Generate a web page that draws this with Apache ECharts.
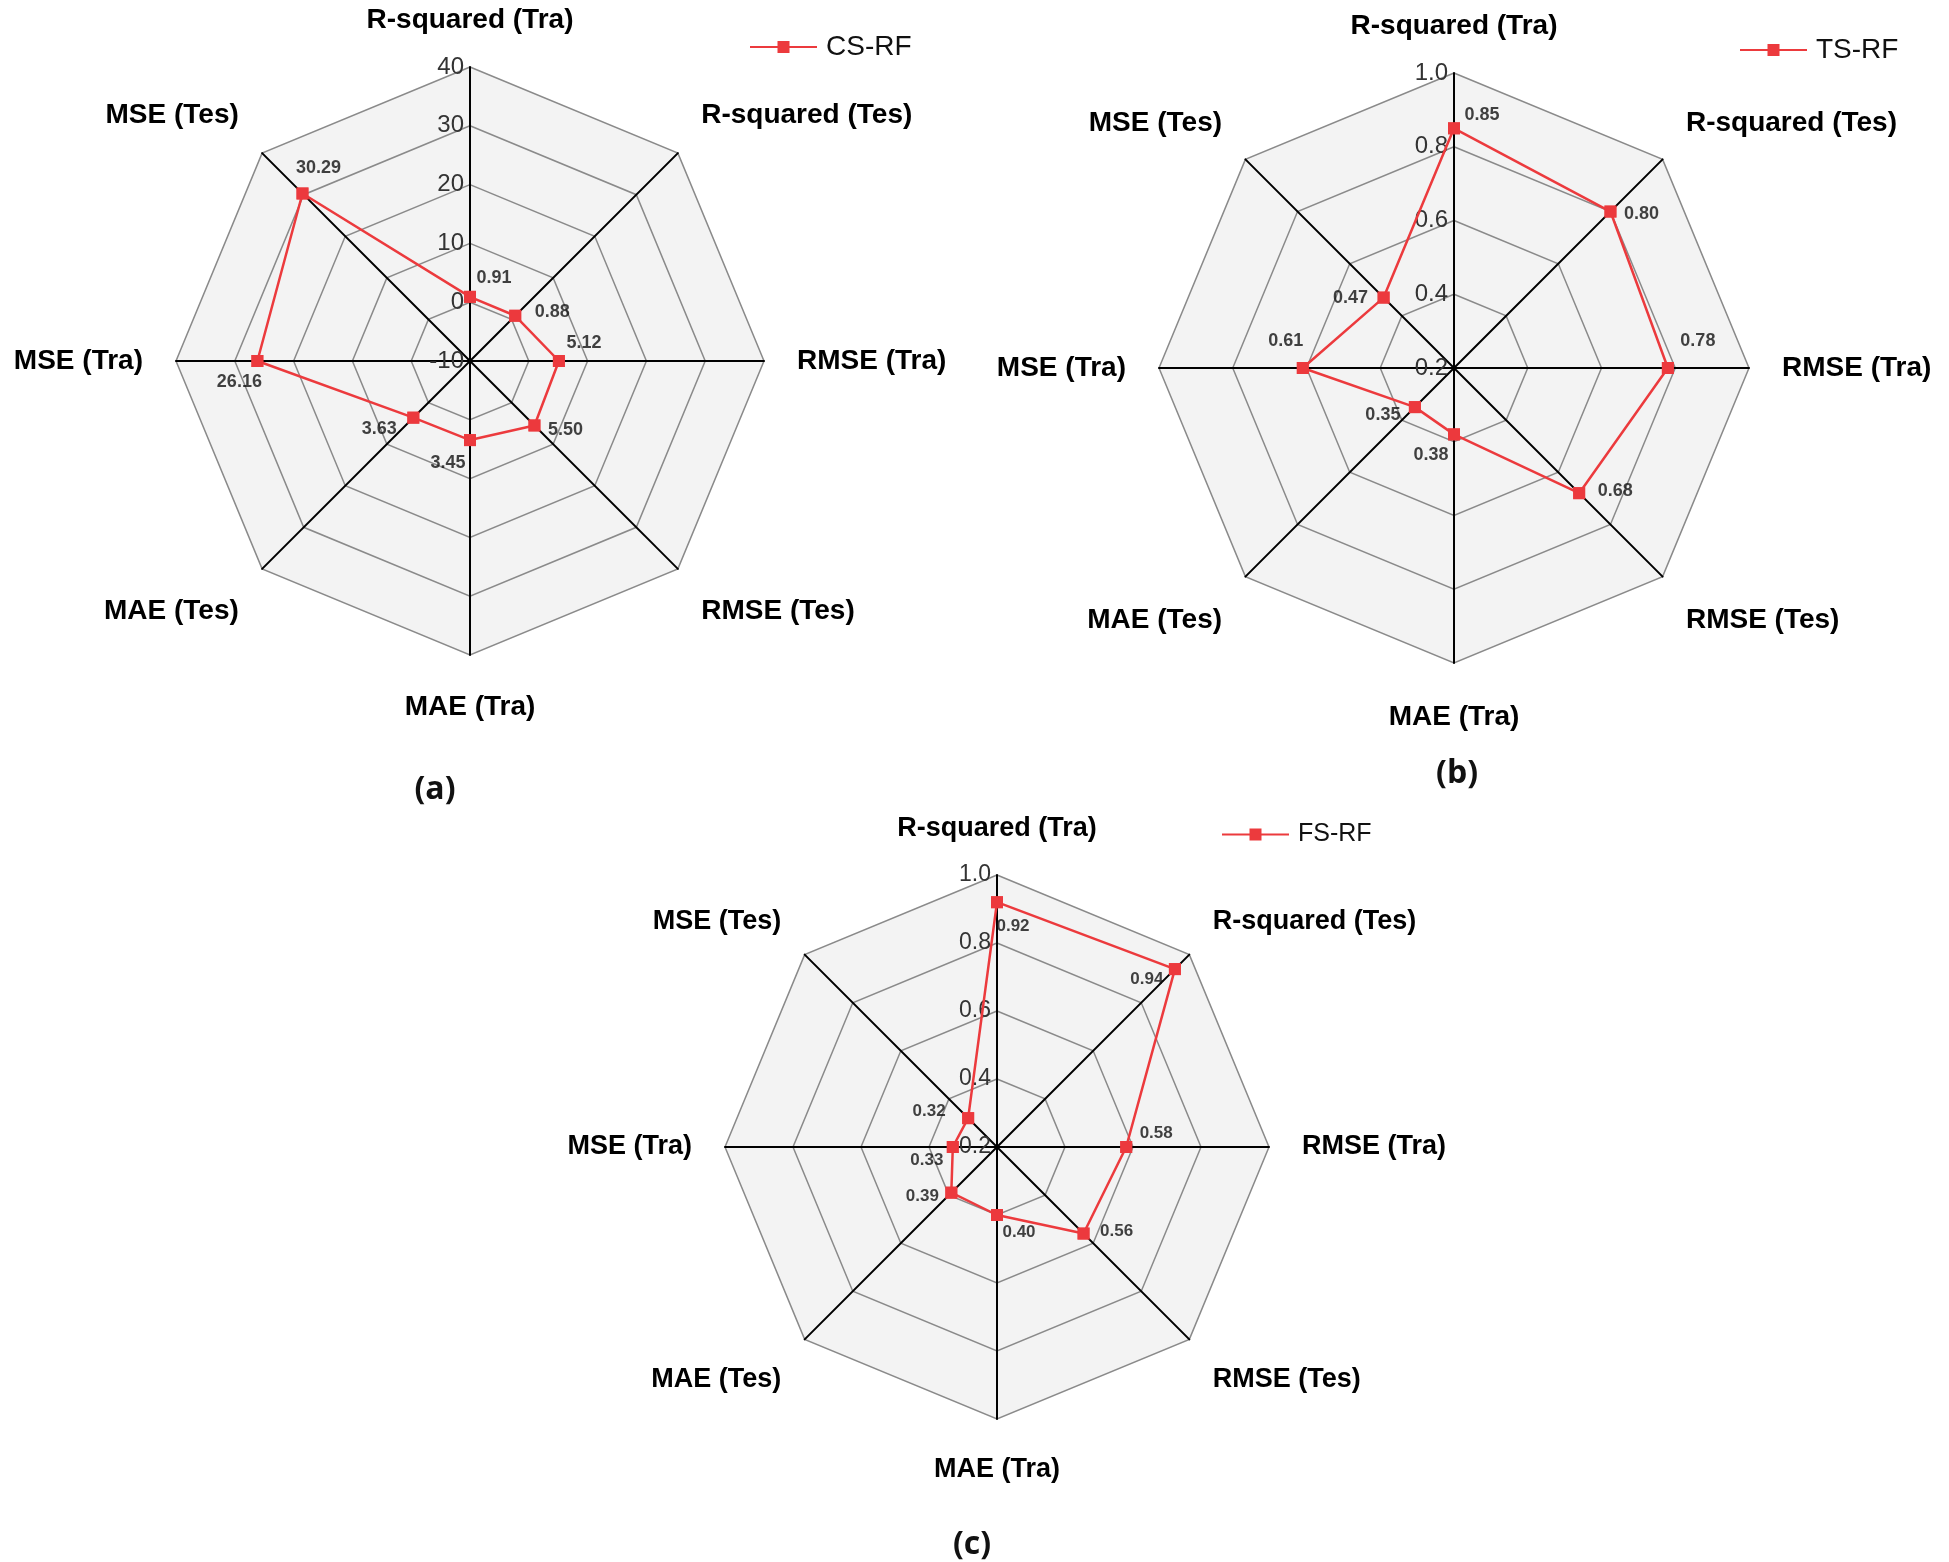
<!DOCTYPE html>
<html>
<head>
<meta charset="utf-8">
<script src="https://cdn.jsdelivr.net/npm/echarts@6/dist/echarts.min.js"></script>
<style>
html,body{margin:0;padding:0;background:#fff;}
#chart{width:1949px;height:1562px;}
</style>
</head>
<body>
<div id="chart"></div>
<script>
// ---------- DATA (clockwise from top) ----------
const categories = ['R-squared (Tra)', 'R-squared (Tes)', 'RMSE (Tra)', 'RMSE (Tes)', 'MAE (Tra)', 'MAE (Tes)', 'MSE (Tra)', 'MSE (Tes)'];
const seriesNames = ['CS-RF', 'TS-RF', 'FS-RF'];
const csRF = [0.91, 0.88, 5.12, 5.50, 3.45, 3.63, 26.16, 30.29];
const tsRF = [0.85, 0.80, 0.78, 0.68, 0.38, 0.35, 0.61, 0.47];
const fsRF = [0.92, 0.94, 0.58, 0.56, 0.40, 0.39, 0.33, 0.32];
const ticksA = [-10, 0, 10, 20, 30, 40];
const ticksB = [0.2, 0.4, 0.6, 0.8, 1.0];
const ticksC = [0.2, 0.4, 0.6, 0.8, 1.0];
const panelLabels = ['(a)', '(b)', '(c)'];

// ---------- LAYOUT / STYLE ----------
const RED = '#ec3a3d';
const layout = [
  { center: [470, 361], radius: 294, nameSize: 28, tickSize: 24, valSize: 18, legendSize: 28, legend: [750, 33], tag: [435, 790], dec: 0,
    spTop: 28, spBot: 38, gapBottom: 38,
    off: [[24,-19],[37,-4],[25,-18],[31,5],[-22,23],[-34,11],[-18,21],[16,-25]] },
  { center: [1454, 368], radius: 295, nameSize: 28, tickSize: 24, valSize: 18, legendSize: 28, legend: [1740, 36], tag: [1457, 774], dec: 1,
    spTop: 26, spBot: 40, gapBottom: 40,
    off: [[28,-13],[31,2],[30,-27],[36,-2],[-23,21],[-32,8],[-17,-27],[-33,0]] },
  { center: [997, 1147], radius: 272, nameSize: 27, tickSize: 23, valSize: 17, legendSize: 25, legend: [1222, 822], tag: [972, 1545], dec: 1,
    spTop: 20, spBot: 34, gapBottom: 37,
    off: [[16,24],[-28,10],[30,-14],[33,-2],[22,17],[-29,4],[-26,13],[-39,-7]] }
];
const allValues = [csRF, tsRF, fsRF];
const allTicks = [ticksA, ticksB, ticksC];

// radar in ECharts runs counter-clockwise: reorder indices
const ccwOrder = [0, 7, 6, 5, 4, 3, 2, 1];
const upperDiag = [categories[1], categories[7]];
const lowerDiag = [categories[3], categories[5]];

const radar = [], polar = [], angleAxis = [], radiusAxis = [], series = [], legend = [], graphic = [];

layout.forEach((L, p) => {
  const ticks = allTicks[p];
  const vals = allValues[p];
  const mn = ticks[0], mx = ticks[ticks.length - 1];
  const dec = L.dec;
  const indicator = ccwOrder.map((ci, k) => {
    const ind = { name: categories[ci], min: mn, max: mx };
    if (k === 0) {
      ind.axisLabel = {
        show: true, fontSize: L.tickSize, color: '#333', margin: 6,
        fontFamily: 'Liberation Sans',
        formatter: v => Number(v).toFixed(dec)
      };
    }
    if (ci === 4) ind.nameGap = L.gapBottom;
    return ind;
  });
  radar.push({
    center: L.center, radius: L.radius, startAngle: 90, shape: 'polygon',
    splitNumber: ticks.length - 1,
    indicator: indicator,
    nameGap: 33,
    axisName: {
      color: '#000', fontSize: L.nameSize, fontWeight: 'bold', fontFamily: 'Liberation Sans',
      formatter: function (name) {
        if (upperDiag.indexOf(name) >= 0) return name + '\n{st| }';
        if (lowerDiag.indexOf(name) >= 0) return '{sb| }\n' + name;
        return name;
      },
      rich: {
        st: { lineHeight: L.spTop, fontSize: 8 },
        sb: { lineHeight: L.spBot, fontSize: 8 }
      }
    },
    axisLine: { lineStyle: { color: '#000', width: 2 } },
    splitLine: { lineStyle: { color: '#8a8a8a', width: 1.5 } },
    splitArea: { show: true, areaStyle: { color: ['#f3f3f3', '#f3f3f3'] } },
    axisLabel: { show: false },
    axisTick: { show: false }
  });
  polar.push({ center: L.center, radius: L.radius });
  angleAxis.push({ polarIndex: p, type: 'value', min: 0, max: 8, startAngle: 90, clockwise: true, show: false });
  radiusAxis.push({ polarIndex: p, type: 'value', min: mn, max: mx, show: false });

  series.push({
    type: 'radar', radarIndex: p, name: seriesNames[p],
    symbol: 'rect', symbolSize: 12,
    lineStyle: { color: RED, width: 2.5 },
    itemStyle: { color: RED },
    data: [{ name: seriesNames[p], value: ccwOrder.map(ci => vals[ci]) }],
    z: 3
  });
  series.push({
    type: 'scatter', coordinateSystem: 'polar', polarIndex: p,
    symbol: 'rect', symbolSize: 12,
    itemStyle: { color: RED },
    label: {
      show: true, position: 'inside', color: '#111', fontWeight: 'bold',
      fontSize: L.valSize, fontFamily: 'Liberation Sans',
      formatter: prm => Number(prm.value[0]).toFixed(2)
    },
    data: vals.map((v, i) => ({ value: [v, i], label: { offset: L.off[i] } })),
    z: 4, silent: true
  });
  legend.push({
    data: [seriesNames[p]], left: L.legend[0], top: L.legend[1], padding: 0,
    itemWidth: 67, itemHeight: 12,
    icon: 'path://M0,5H67V7H0Z M27.5,0H39.5V12H27.5Z',
    itemStyle: { color: RED },
    textStyle: { fontSize: L.legendSize, color: '#111', fontFamily: 'Liberation Sans', padding: [0, 0, 0, 4] }
  });
  graphic.push({
    type: 'text', x: L.tag[0], y: L.tag[1],
    style: { text: panelLabels[p], align: 'center', verticalAlign: 'middle',
      font: 'bold 32px "Open Sans"', fill: '#111' }
  });
});

const chart = echarts.init(document.getElementById('chart'));
chart.setOption({
  backgroundColor: '#fff',
  animation: false,
  radar, polar, angleAxis, radiusAxis, series, legend, graphic
});
</script>
</body>
</html>
